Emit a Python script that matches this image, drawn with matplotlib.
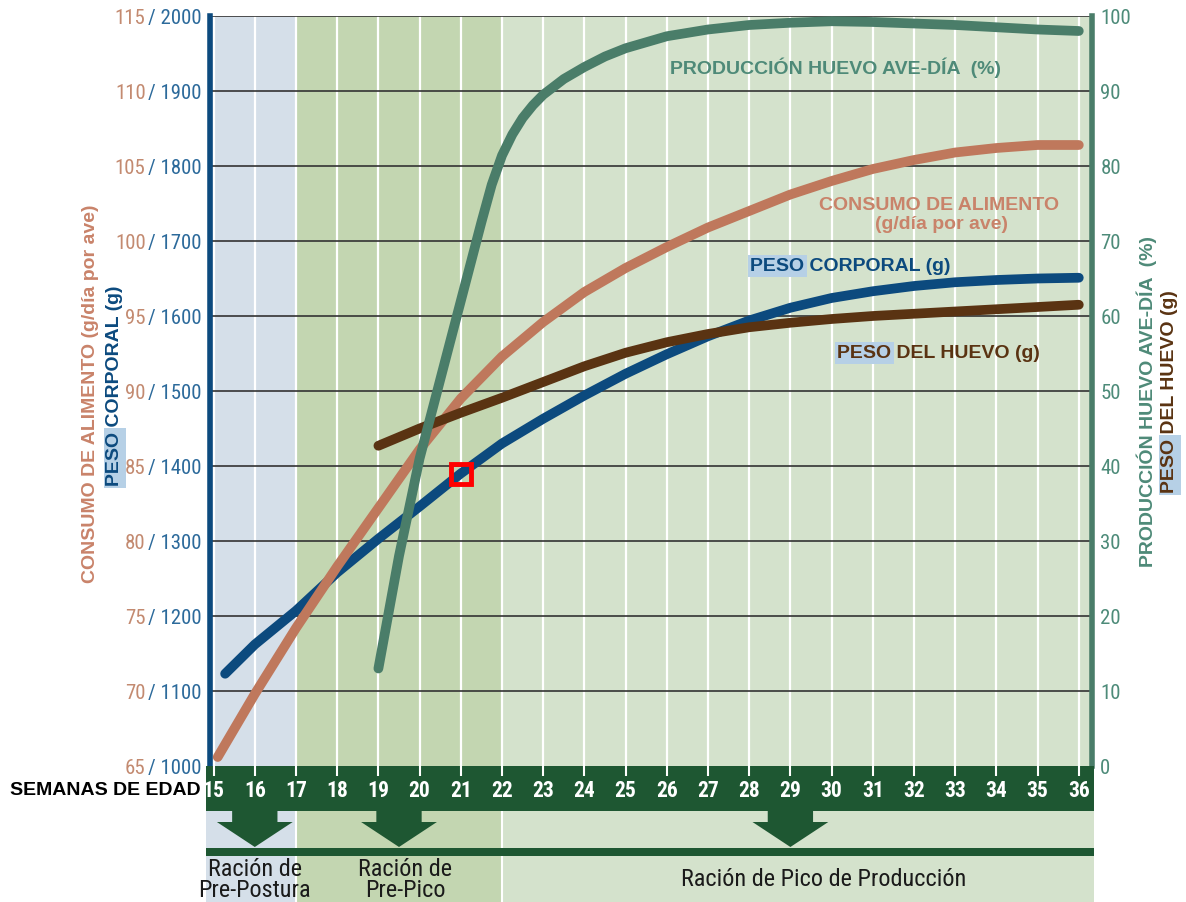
import matplotlib
matplotlib.use("Agg")
import matplotlib.pyplot as plt
import matplotlib.transforms as mtransforms
from matplotlib import font_manager
from matplotlib.patches import Polygon, Rectangle

# ---- values ----
weeks_bw = [15.28, 16, 17, 18, 19, 20, 21, 22, 23, 24, 25, 26, 27, 28, 29, 30, 31, 32, 33, 34, 35, 36]
body_weight = [1123, 1162, 1207, 1258, 1303, 1346, 1390, 1430, 1463, 1494, 1523, 1549, 1573, 1594,
               1611, 1624, 1633, 1640, 1645, 1648, 1650, 1651]

weeks_feed = [15.1, 16, 17, 18, 19, 20, 21, 22, 23, 24, 25, 26, 27, 28, 29, 30, 31, 32, 33, 34, 35, 36]
feed = [65.6, 69.8, 74.2, 78.3, 82.2, 86.1, 89.5, 92.3, 94.6, 96.6, 98.2, 99.6, 100.9, 102.0,
        103.1, 104.0, 104.8, 105.4, 105.9, 106.2, 106.4, 106.4]

weeks_egg = [19, 20, 21, 22, 23, 24, 25, 26, 27, 28, 29, 30, 31, 32, 33, 34, 35, 36]
egg_weight = [42.7, 45.0, 47.1, 49.1, 51.2, 53.3, 55.1, 56.5, 57.6, 58.5, 59.1, 59.6, 60.0, 60.3,
              60.6, 60.9, 61.2, 61.5]

weeks_prod = [19, 19.5, 20, 20.5, 21, 21.5, 21.75, 22, 22.25, 22.5, 22.75, 23, 23.5, 24, 24.5,
              25, 26, 27, 28, 29, 30, 31, 32, 33, 34, 35, 36]
production = [13.0, 28.0, 41.0, 51.5, 62.0, 72.5, 77.5, 81.4, 84.2, 86.4, 88.1, 89.5, 91.6, 93.2,
              94.6, 95.7, 97.3, 98.2, 98.8, 99.1, 99.3, 99.2, 99.0, 98.8, 98.5, 98.2, 98.0]

marker_week = 21
marker_bw = 1390

week_ticks = list(range(15, 37))
bw_ticks = list(range(1000, 2001, 100))
feed_ticks = list(range(65, 116, 5))
prod_ticks = list(range(0, 101, 10))

phase_bounds = [(None, 17), (17, 22), (22, None)]
phase_colors = ["#d5dfe9", "#c3d6b1", "#d4e2cc"]
phase_labels = ["Ración de\nPre-Postura", "Ración de\nPre-Pico", "Ración de Pico de Producción"]
phase_label_x = [16.0, 19.65, 29.8]
arrow_x = [16.0, 19.5, 29.0]

# ---- colours / fonts ----
BLUE = "#0c4a7e"
SALMON = "#bf785c"
BROWN = "#5a3312"
GREEN = "#4a7d69"
DKGREEN = "#1e5732"
HILITE = "#b6d0e6"
BOLD = ["Liberation Sans", "DejaVu Sans"]

# pick a condensed face for the numbers if one is installed
_fonts = font_manager.fontManager.ttflist
_names = {f.name for f in _fonts}
NARROW, STRETCH, NSCALE = None, "normal", 1.0
for fam in ["Liberation Sans Narrow", "Roboto Condensed", "Noto Sans Condensed",
            "Open Sans Condensed", "DejaVu Sans Condensed"]:
    if fam in _names:
        NARROW = fam
        break
if NARROW is None:
    for fam in ["Noto Sans", "Open Sans", "DejaVu Sans", "Roboto"]:
        if any(f.name == fam and "condensed" in str(f.stretch) for f in _fonts):
            NARROW, STRETCH = fam, "condensed"
            break
if NARROW is None:
    NARROW, NSCALE = "Roboto", 0.9
NFAM = [NARROW, "DejaVu Sans"]

W, H = 1186, 903


def wk(px):
    # pixel column of the reference -> week
    return 15 + (px - 213.6) / 41.2


def fxy(x, y):
    return x / W, 1 - y / H


fig = plt.figure(figsize=(W / 100, H / 100), dpi=100, facecolor="white")
renderer = fig.canvas.get_renderer()

# main axes (body weight, g)
ax = fig.add_axes([210 / W, (H - 767) / H, (1092 - 210) / W, 750 / H])
ax.set_xlim(wk(210), wk(1092))
ax.set_ylim(1000, 2000)
ax.set_facecolor("none")

for (a, b), c in zip(phase_bounds, phase_colors):
    ax.axvspan(a if a else wk(200), b if b else wk(1100), color=c, zorder=0, lw=0)
for w in week_ticks:
    ax.axvline(w, color="white", lw=1.6, zorder=1)
for g in bw_ticks[1:]:
    ax.axhline(g, color="#333333", lw=1.2, zorder=2)

ax.plot(weeks_bw, body_weight, color=BLUE, lw=7, solid_capstyle="round", solid_joinstyle="round", zorder=3)
ax.plot([marker_week], [marker_bw], marker="s", ms=14, mfc="none", mec="#ff0000", mew=3.5, zorder=4)

ax.set_xticks([])
ax.set_yticks([])
for s in ["top", "right", "bottom"]:
    ax.spines[s].set_visible(False)
ax.spines["left"].set_color(BLUE)
ax.spines["left"].set_linewidth(4)

# left tick labels "feed / body weight"
t_bw = mtransforms.offset_copy(ax.get_yaxis_transform(), fig=fig, x=-8, y=0, units="dots")
for f, g in zip(feed_ticks, bw_ticks):
    tb = ax.text(0, g, f"/ {g}", transform=t_bw, ha="right", va="center_baseline",
                 color="#2c6a9b", fontsize=15 * NSCALE, family=NFAM, stretch=STRETCH)
    ax.annotate(str(f), xy=(0, 0), xycoords=tb, xytext=(-2, 0), textcoords="offset points",
                ha="right", va="bottom", color="#c38a70", fontsize=15 * NSCALE, family=NFAM,
                stretch=STRETCH)

# feed axis (g/day), hidden
ax_feed = ax.twinx()
ax_feed.set_ylim(65, 115)
ax_feed.plot(weeks_feed, feed, color=SALMON, lw=7, solid_capstyle="round", solid_joinstyle="round")
ax_feed.axis("off")

# percentage / egg weight axis on the right
ax_pct = ax.twinx()
ax_pct.set_ylim(0, 100)
ax_pct.plot(weeks_egg, egg_weight, color=BROWN, lw=7, solid_capstyle="round", solid_joinstyle="round")
ax_pct.plot(weeks_prod, production, color=GREEN, lw=7, solid_capstyle="round", solid_joinstyle="round")
ax_pct.set_yticks(prod_ticks)
ax_pct.set_yticklabels([str(p) for p in prod_ticks], color="#4d8b79", fontsize=15 * NSCALE,
                       family=NFAM, stretch=STRETCH)
ax_pct.tick_params(axis="y", length=0, pad=6)
for s in ["top", "left", "bottom"]:
    ax_pct.spines[s].set_visible(False)
ax_pct.spines["right"].set_color(GREEN)
ax_pct.spines["right"].set_linewidth(4)


def label(owner, x, y, text, color, hl=None, transform=None, rotation=0, size=14):
    kw = dict(ha="left", va="baseline", rotation=rotation, rotation_mode="anchor",
              fontsize=size, fontweight="bold", family=BOLD, zorder=5)
    if transform is not None:
        kw["transform"] = transform
    t = owner.text(x, y, text, color=color, **kw)
    if hl:
        # measure the highlighted word, then put a light box behind it
        tmp = owner.text(x, y, hl, **kw)
        bb = tmp.get_window_extent(renderer)
        tmp.remove()
        pad = 2.5
        box = Rectangle((bb.x0 - pad, bb.y0 - pad), bb.width + 2 * pad, bb.height + 2 * pad,
                        transform=mtransforms.IdentityTransform(), fc=HILITE, ec="none",
                        zorder=4, clip_on=False)
        if owner is fig:
            fig.add_artist(box)
        else:
            owner.add_patch(box)
    return t


# in-plot curve labels (positions in week / body-weight units)
label(ax_pct, wk(670), 1000 + (767 - 74) / 0.75, "PRODUCCIÓN HUEVO AVE-DÍA  (%)", "#4e8a78",
      transform=ax.transData)
ax_pct.text(wk(939), 1000 + (767 - 210) / 0.75, "CONSUMO DE ALIMENTO", transform=ax.transData,
            ha="center", va="baseline", fontsize=14, fontweight="bold", family=BOLD, color="#c9836a")
ax_pct.text(wk(941), 1000 + (767 - 229) / 0.75, "(g/día por ave)", transform=ax.transData,
            ha="center", va="baseline", fontsize=14, fontweight="bold", family=BOLD, color="#c9836a")
label(ax_pct, wk(750), 1000 + (767 - 271) / 0.75, "PESO CORPORAL (g)", BLUE, hl="PESO",
      transform=ax.transData)
label(ax_pct, wk(837), 1000 + (767 - 358) / 0.75, "PESO DEL HUEVO (g)", BROWN, hl="PESO",
      transform=ax.transData)

# rotated axis titles
x0, y0 = fxy(95, 583)
label(fig, x0, y0, "CONSUMO DE ALIMENTO (g/día por ave)", "#c9836a", rotation=90)
x0, y0 = fxy(119, 486)
label(fig, x0, y0, "PESO CORPORAL (g)", BLUE, hl="PESO", rotation=90)
x0, y0 = fxy(1153, 567)
label(fig, x0, y0, "PRODUCCIÓN HUEVO AVE-DÍA  (%)", "#4e8a78", rotation=90, size=14)
x0, y0 = fxy(1174, 493)
label(fig, x0, y0, "PESO DEL HUEVO (g)", BROWN, hl="PESO", rotation=90, size=14)

# bottom strip: weeks band, arrows, ration labels (y in pixel rows)
axb = fig.add_axes([206 / W, 0, (1094 - 206) / W, (H - 767) / H])
axb.set_xlim(wk(206), wk(1094))
axb.set_ylim(903, 767)
axb.axis("off")
for (a, b), c in zip(phase_bounds, phase_colors):
    axb.axvspan(a if a else wk(200), b if b else wk(1100), color=c, lw=0, zorder=0)
axb.vlines([17, 22], 812, 903, color="white", lw=1.5, zorder=1)
axb.axhspan(767, 812, color=DKGREEN, lw=0, zorder=2)
axb.axhspan(849, 857, color=DKGREEN, lw=0, zorder=2)
axb.vlines(week_ticks, 767, 777, color="white", lw=1.5, zorder=3)
for w in week_ticks:
    axb.text(w, 791, str(w), ha="center", va="center", color="white", fontsize=15.5 * NSCALE,
             fontweight="bold", family=NFAM, stretch=STRETCH, zorder=4)
for a in arrow_x:
    sw, hw = 0.55, 0.92
    pts = [(a - sw, 811), (a + sw, 811), (a + sw, 823), (a + hw, 823), (a, 848),
           (a - hw, 823), (a - sw, 823)]
    axb.add_patch(Polygon(pts, closed=True, color=DKGREEN, lw=0, zorder=2))
for x, t in zip(phase_label_x, phase_labels):
    axb.text(x, 880, t, ha="center", va="center", fontsize=17.5 * NSCALE, family=NFAM,
             stretch=STRETCH, color="#1a1a1a", linespacing=0.92, zorder=4)

fig.text(*fxy(201, 791), "SEMANAS DE EDAD", ha="right", va="center", fontsize=14,
         fontweight="bold", family=BOLD, color="black")

fig.savefig("out.png", dpi=100, facecolor="white")
